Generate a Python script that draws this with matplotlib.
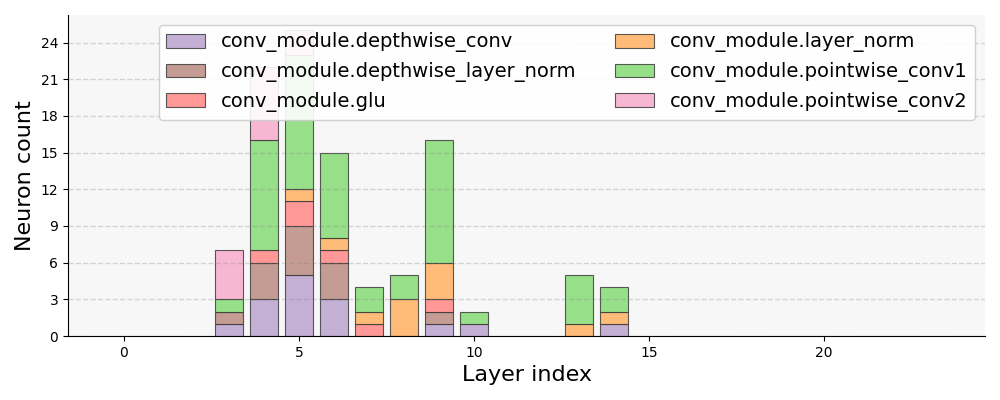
import numpy as np
import matplotlib
matplotlib.use("Agg")
import matplotlib.pyplot as plt
from matplotlib.patches import Patch

layers = np.arange(24)

# neuron counts per layer for each submodule
depthwise_conv       = [0, 0, 0, 1, 3, 5, 3, 0, 0, 1, 1, 0, 0, 0, 1, 0, 0, 0, 0, 0, 0, 0, 0, 0]
depthwise_layer_norm = [0, 0, 0, 1, 3, 4, 3, 0, 0, 1, 0, 0, 0, 0, 0, 0, 0, 0, 0, 0, 0, 0, 0, 0]
glu                  = [0, 0, 0, 0, 1, 2, 1, 1, 0, 1, 0, 0, 0, 0, 0, 0, 0, 0, 0, 0, 0, 0, 0, 0]
layer_norm           = [0, 0, 0, 0, 0, 1, 1, 1, 3, 3, 0, 0, 0, 1, 1, 0, 0, 0, 0, 0, 0, 0, 0, 0]
pointwise_conv1      = [0, 0, 0, 1, 9, 11, 7, 2, 2, 10, 1, 0, 0, 4, 2, 0, 0, 0, 0, 0, 0, 0, 0, 0]
pointwise_conv2      = [0, 0, 0, 4, 6, 2, 0, 0, 0, 0, 0, 0, 0, 0, 0, 0, 0, 0, 0, 0, 0, 0, 0, 0]

series = [
    ("conv_module.depthwise_conv", depthwise_conv, "#c5b0d5"),
    ("conv_module.depthwise_layer_norm", depthwise_layer_norm, "#c49c94"),
    ("conv_module.glu", glu, "#ff9896"),
    ("conv_module.layer_norm", layer_norm, "#ffbb78"),
    ("conv_module.pointwise_conv1", pointwise_conv1, "#98df8a"),
    ("conv_module.pointwise_conv2", pointwise_conv2, "#f7b6d2"),
]

edge = (0.2, 0.2, 0.2, 0.8)

fig, ax = plt.subplots(figsize=(10, 4), dpi=100)
ax.set_facecolor("#f7f7f7")

bottom = np.zeros(len(layers))
handles = []
for name, vals, col in series:
    vals = np.array(vals, dtype=float)
    bars = ax.bar(layers, vals, bottom=bottom, width=0.8, color=col,
                  edgecolor=edge, linewidth=0.8)
    # hide empty segments so no outline shows on the baseline
    for b, v in zip(bars, vals):
        if v == 0:
            b.set_visible(False)
    bottom += vals
    handles.append(Patch(facecolor=col, edgecolor=edge, linewidth=0.8, label=name))

ax.set_yticks(np.arange(0, 25, 3))
ax.set_xticks([0, 5, 10, 15, 20])
ax.grid(axis="y", ls="--", color="gray", alpha=0.3, lw=1.0)
ax.spines["top"].set_visible(False)
ax.spines["right"].set_visible(False)

ax.set_xlabel("Layer index", fontsize=16)
ax.set_ylabel("Neuron count", fontsize=16)

ax.legend(handles=handles, ncol=2, fontsize=14, loc="upper right", framealpha=0.9)

plt.subplots_adjust(left=0.068, right=0.985, top=0.9625, bottom=0.16)
plt.savefig("out.png", dpi=100)
